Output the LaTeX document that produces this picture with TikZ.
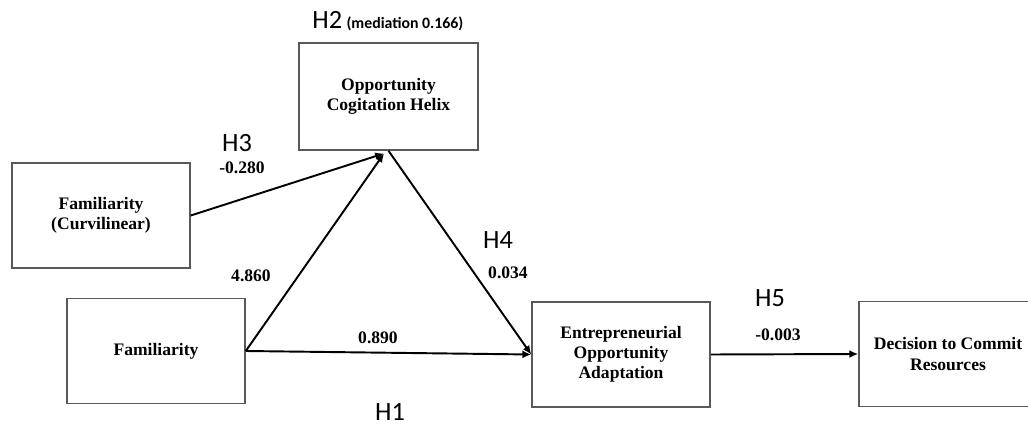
\documentclass[tikz,border=0pt]{standalone}
\usepackage{fontspec}
\setmainfont{Liberation Serif}
\newfontfamily\hfont{Carlito}
\usetikzlibrary{arrows.meta, positioning}

\tikzset{
    box/.style={draw=black!65, rectangle, line width=0.9pt, minimum width=3.56cm, minimum height=2.1cm, inner sep=2pt},
    link/.style={-{Latex[length=5pt,width=4.5pt]}, line width=1.1pt},
    hyp/.style={font=\hfont\fontsize{15}{16}\selectfont}
}

\begin{document}
\begin{tikzpicture}[x=0.02cm,y=-0.02cm, every node/.style={font=\fontsize{10}{11.5}\selectfont\bfseries, align=center}]
    \useasboundingbox (0,0) rectangle (1028,425);
    \clip (0,0) rectangle (1028,425);
    % constructs
    \node[box, minimum width=3.58cm, minimum height=2.14cm] (och) at (388.5,96.5) {Opportunity\\Cogitation Helix};
    \node[box] (fcur) at (101,215.5) {Familiarity\\(Curvilinear)};
    \node[box] (fam) at (156,351) {Familiarity};
    \node[box] (eoa) at (621,354.5) {Entrepreneurial\\Opportunity\\Adaptation};
    \node[box] (dcr) at (948,354) {Decision to Commit\\Resources};
    \coordinate (meet) at (384,153.5);
    % paths
    \draw[link] (fcur.east) -- (meet);
    \draw[link] (fam.east) -- (meet);
    \draw[link] (och.south) -- (eoa.west);
    \draw[link] (fam.east) -- (eoa.west);
    \draw[link] (eoa.east) -- (dcr.west);
    % hypotheses and coefficients
    \node[anchor=base west, inner sep=0pt] (h2) at (312,29) {{\hfont\fontsize{15}{16}\selectfont\mdseries H2} {\hfont\fontsize{9}{10}\selectfont\bfseries (mediation 0.166)}};
    \node[hyp] (h3) at (237,143) {H3};
    \node (c3) at (242,168) {-0.280};
    \node (c2) at (251,276) {4.860};
    \node[hyp] (h4) at (498,240) {H4};
    \node (c4) at (508,273) {0.034};
    \node (c1) at (378,338) {0.890};
    \node[hyp, anchor=base] (h1) at (390,420) {H1};
    \node[hyp] (h5) at (770,298) {H5};
    \node (c5) at (778,335) {-0.003};
\end{tikzpicture}
\end{document}
